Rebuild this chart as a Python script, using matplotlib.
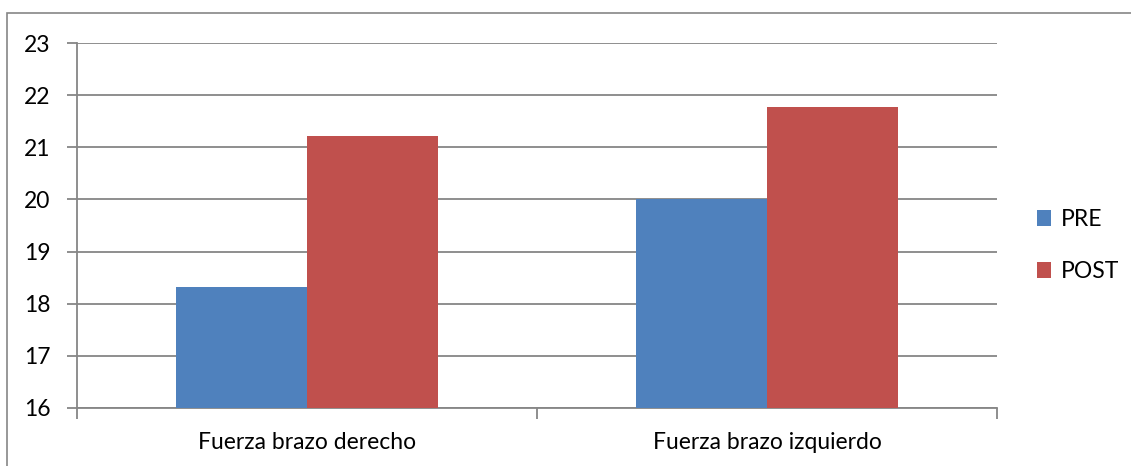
import numpy as np
import matplotlib.pyplot as plt
from matplotlib.patches import Rectangle

categories = ["Fuerza brazo derecho", "Fuerza brazo izquierdo"]
pre_values = [18.33, 20.0]
post_values = [21.22, 21.78]
series_names = ["PRE", "POST"]
y_ticks = [16, 17, 18, 19, 20, 21, 22, 23]

plt.rcParams['font.family'] = ['Lato', 'DejaVu Sans']

fig = plt.figure(figsize=(11.31, 4.66), dpi=100)
W, H = 1131, 466
# axes box in pixels: x 77..997, y 43..408 (from top)
ax = fig.add_axes([77 / W, 1 - 408 / H, (997 - 77) / W, (408 - 43) / H])

# outer chart border
fig.patches.append(Rectangle((7 / W, -0.1), 1.2, 1 - 13 / H + 0.1, transform=fig.transFigure,
                             fill=False, edgecolor='#868686', linewidth=1.2))

x = np.arange(len(categories))
bw = 1 / 3.5
ax.bar(x - bw / 2, pre_values, bw, color='#4F81BD', label=series_names[0], zorder=3)
ax.bar(x + bw / 2, post_values, bw, color='#C0504D', label=series_names[1], zorder=3)

ax.set_ylim(16, 23)
ax.set_xlim(-0.5, 1.5)
ax.set_yticks(y_ticks)
ax.yaxis.grid(True, color='#868686', linewidth=1.3, zorder=0)
ax.set_axisbelow(True)

ax.set_xticks([-0.5, 0.5, 1.5])
ax.set_xticklabels([])
ax.set_xticks(x, minor=True)
ax.set_xticklabels(categories, minor=True, fontsize=16.5)
ax.tick_params(axis='x', which='minor', length=0, pad=17)
ax.tick_params(axis='x', which='major', length=8, width=1.3, color='#868686')
ax.tick_params(axis='y', length=7, width=1.3, color='#868686', labelsize=16.5, pad=12)

for s in ['top', 'right']:
    ax.spines[s].set_visible(False)
for s in ['left', 'bottom']:
    ax.spines[s].set_color('#868686')
    ax.spines[s].set_linewidth(1.3)

ax.legend(loc='center left', bbox_to_anchor=(1.033, 0.445), frameon=False, fontsize=16.5,
          handlelength=0.65, handleheight=0.65, handletextpad=0.4, labelspacing=1.35,
          borderaxespad=0)

fig.savefig('out.png', dpi=100)
